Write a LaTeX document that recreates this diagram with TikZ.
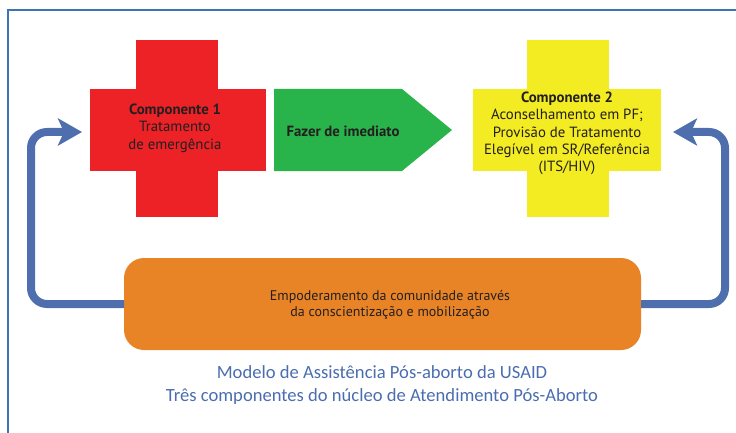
\documentclass[tikz,border=0pt]{standalone}
\usepackage{fontspec}
\setmainfont{PT Sans}
\newfontfamily\capfont{Carlito}
\usetikzlibrary{arrows.meta}
\definecolor{crossred}{HTML}{EC2227}
\definecolor{arrowgreen}{HTML}{28B34B}
\definecolor{crossyellow}{HTML}{F4EC22}
\definecolor{boxorange}{HTML}{E98426}
\definecolor{loopblue}{HTML}{4E6EAE}
\definecolor{capblue}{HTML}{4A6DB0}
\definecolor{framecol}{HTML}{3D74B6}
\definecolor{textdark}{HTML}{231F20}
\begin{document}
\begin{tikzpicture}[x=1pt,y=-1pt,
  bar/.style={draw=none, inner sep=0pt, outer sep=0pt},
  boxtext/.style={text=textdark, align=center, inner sep=0pt, font=\fontsize{14.8}{17.4}\selectfont},
  loopline/.style={draw=loopblue, line width=8pt, rounded corners=16pt,
    -{Stealth[length=24pt,width=27pt,inset=6pt]}}]
\useasboundingbox (0,0) rectangle (736,433);
% frame
\draw[framecol, line width=1.5pt] (8,445) -- (8,10) -- (745,10);
% component 1 cross
\node[bar, fill=crossred, minimum width=82pt, minimum height=177pt] (c1v) at (177,128.5) {};
\node[bar, fill=crossred, minimum width=176pt, minimum height=82pt] (c1h) at (178,130) {};
\node[boxtext] (c1) at (175,128) {\textbf{Componente 1}\\Tratamento\\de emergência};
% green arrow
\fill[arrowgreen] (274,89) -- (402,89) -- (452,130) -- (402,171) -- (274,171) -- cycle;
\node[boxtext, font=\fontsize{14.8}{17.4}\selectfont\bfseries] (g) at (343,131) {Fazer de imediato};
% component 2 cross
\node[bar, fill=crossyellow, minimum width=82pt, minimum height=177pt] (c2v) at (568,128.5) {};
\node[bar, fill=crossyellow, minimum width=188pt, minimum height=82pt] (c2h) at (567,130) {};
\node[boxtext] (c2) at (567,133.5) {\textbf{Componente 2}\\Aconselhamento em PF;\\Provisão de Tratamento\\Elegível em SR/Referência\\(ITS/HIV)};
% orange box
\node[bar, fill=boxorange, rounded corners=20pt, minimum width=517pt, minimum height=92pt] (o) at (382.5,304) {};
\node[boxtext, font=\fontsize{14}{16.5}\selectfont] (ot) at (390,305) {Empoderamento da comunidade através\\da conscientização e mobilização};
% arrow targets
\coordinate (in1) at (82,132);
\coordinate (in2) at (673,132);
% loops
\draw[loopline] (o.west) -- (31,304) -- (31,132) -- (in1);
\draw[loopline] (o.east) -- (725,304) -- (725,132) -- (in2);
% caption
\node[text=capblue, align=center, inner sep=0pt, font=\capfont\fontsize{18.6}{23}\selectfont] (cap) at (382,385.5) {Modelo de Assistência Pós-aborto da USAID\\Três componentes do núcleo de Atendimento Pós-Aborto};
\end{tikzpicture}
\end{document}
